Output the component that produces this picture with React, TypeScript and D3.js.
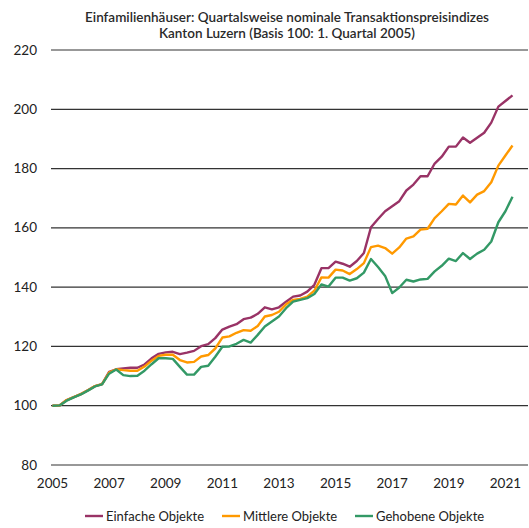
import React from "react";
import * as d3 from "d3";

const years = [2005, 2007, 2009, 2011, 2013, 2015, 2017, 2019, 2021];
const yTicks = [80, 100, 120, 140, 160, 180, 200, 220];
const titleLines = [
  "Einfamilienhäuser: Quartalsweise nominale Transaktionspreisindizes",
  "Kanton Luzern (Basis 100: 1. Quartal 2005)",
];

// Quarterly values from 2005 Q1 to 2021 Q2
const einfache = [
  100, 100.1, 101.9, 102.9, 103.9, 105.2, 106.6, 107.3,
  111.4, 112.3, 112.6, 112.8, 112.8, 113.9, 116.0, 117.5,
  118.0, 118.2, 117.4, 117.9, 118.5, 120.1, 120.8, 122.8,
  125.7, 126.7, 127.5, 129.2, 129.7, 131.0, 133.2, 132.5,
  133.2, 135.1, 136.8, 137.2, 138.5, 140.8, 146.4, 146.4,
  148.6, 147.9, 146.9, 148.8, 151.5, 160.2, 163.0, 165.6,
  167.3, 169.0, 172.6, 174.6, 177.4, 177.4, 181.7, 184.0,
  187.4, 187.4, 190.5, 188.7, 190.4, 192.1, 195.5, 200.9,
  202.8, 204.7,
];
const mittlere = [
  100, 100.1, 101.9, 102.9, 103.9, 105.2, 106.6, 107.3,
  111.2, 112.3, 112.0, 111.8, 111.8, 113.2, 115.2, 116.8,
  117.2, 117.2, 115.4, 114.6, 114.8, 116.6, 117.1, 119.3,
  123.0, 123.4, 124.6, 125.5, 125.3, 126.9, 130.1, 130.6,
  131.7, 134.2, 135.7, 136.0, 136.8, 138.8, 143.3, 143.2,
  145.9, 145.6, 144.4, 146.1, 148.1, 153.5, 154.0, 153.2,
  151.3, 153.4, 156.4, 157.1, 159.4, 159.7, 163.3, 165.6,
  168.1, 167.9, 170.9, 168.6, 171.2, 172.4, 175.4, 181.0,
  184.4, 187.8,
];
const gehobene = [
  100, 100.1, 101.7, 102.8, 103.8, 105.1, 106.5, 107.2,
  110.8, 112.2, 110.3, 110.0, 110.1, 111.8, 114.0, 116.0,
  116.0, 115.8, 113.1, 110.5, 110.5, 113.1, 113.5, 116.5,
  119.9, 120.0, 120.9, 122.2, 121.3, 123.9, 126.7, 128.4,
  130.1, 132.9, 135.1, 135.7, 136.3, 137.7, 140.9, 140.2,
  143.2, 143.2, 142.2, 143.0, 144.9, 149.5, 146.8, 143.8,
  138.0, 139.9, 142.5, 141.9, 142.6, 142.8, 145.3, 147.2,
  149.6, 148.8, 151.5, 149.5, 151.3, 152.6, 155.4, 161.9,
  165.6, 170.5,
];

const seriesNames = ["Einfache Objekte", "Mittlere Objekte", "Gehobene Objekte"];
const seriesColors = ["#993366", "#FF9900", "#339966"];
const seriesData = [einfache, mittlere, gehobene];

const W = 529;
const H = 528;
const FONT = "Lato, 'DejaVu Sans', sans-serif";

export default function App() {
  const x = d3.scaleLinear().domain([0, 65]).range([52.5, 512.5]);
  const y = d3.scaleLinear().domain([80, 220]).range([465, 50]);
  const line = d3
    .line<number>()
    .x((_, i) => x(i))
    .y((d) => y(d));

  const legendX = [85, 222, 355];

  return (
    <svg
      width={W}
      height={H}
      style={{ position: "absolute", left: 0, top: 0, background: "#fff" }}
      fontFamily={FONT}
    >
      {titleLines.map((t, i) => (
        <text
          key={t}
          x={287}
          y={22 + i * 16}
          textAnchor="middle"
          fontSize={13.5}
          fontWeight={600}
          fill="#2a2a2a"
        >
          {t}
        </text>
      ))}
      {yTicks.map((v) => (
        <g key={v}>
          <line x1={51} x2={528} y1={y(v)} y2={y(v)} stroke="#333" strokeWidth={1.2} />
          <text x={37} y={y(v) + 4.5} textAnchor="end" fontSize={13.5} fill="#222">
            {v}
          </text>
        </g>
      ))}
      {years.map((yr) => (
        <text
          key={yr}
          x={x((yr - 2005) * 4)}
          y={488}
          textAnchor="middle"
          fontSize={13.5}
          fill="#222"
        >
          {yr}
        </text>
      ))}
      {seriesData.map((d, i) => (
        <path
          key={seriesNames[i]}
          d={line(d) || ""}
          fill="none"
          stroke={seriesColors[i]}
          strokeWidth={2.4}
          strokeLinejoin="round"
        />
      ))}
      {seriesNames.map((n, i) => (
        <g key={n}>
          <line
            x1={legendX[i]}
            x2={legendX[i] + 18}
            y1={516}
            y2={516}
            stroke={seriesColors[i]}
            strokeWidth={2.4}
          />
          <text x={legendX[i] + 21} y={520.5} fontSize={13} fill="#222">
            {n}
          </text>
        </g>
      ))}
    </svg>
  );
}
